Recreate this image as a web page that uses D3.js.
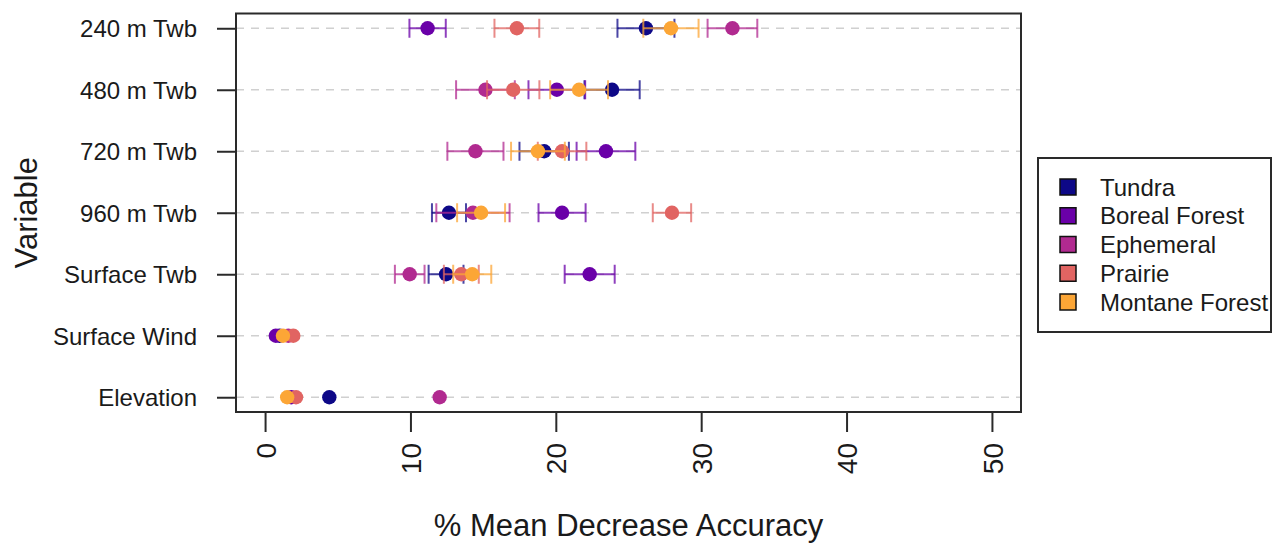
<!DOCTYPE html>
<html>
<head>
<meta charset="utf-8">
<script src="https://cdn.jsdelivr.net/npm/d3@7"></script>
<style>
  html, body { margin: 0; padding: 0; background: #fff; }
  svg { display: block; font-family: "Liberation Sans", Arial, sans-serif; }
</style>
</head>
<body>
<svg id="chart" width="1274" height="544"></svg>
<script>
// Predictor variables, top row first
const variables = ["240 m Twb", "480 m Twb", "720 m Twb", "960 m Twb", "Surface Twb", "Surface Wind", "Elevation"];
const regions = ["Tundra", "Boreal Forest", "Ephemeral", "Prairie", "Montane Forest"];
const regionColors = ["#0d0887", "#6a00a8", "#b12a90", "#e16462", "#fca636"];
const xTicks = [0, 10, 20, 30, 40, 50];

// Mean % decrease in accuracy per region (same order as variables)
const tundraMean    = [26.2, 23.87, 19.2, 12.65, 12.45, 1.0, 4.42];
const borealMean    = [11.18, 20.07, 23.45, 20.43, 22.33, 0.74, 1.8];
const ephemeralMean = [32.15, 15.16, 14.47, 14.3, 9.95, 1.6, 12.01];
const prairieMean   = [17.32, 17.07, 20.43, 27.99, 13.5, 1.94, 2.13];
const montaneMean   = [27.92, 21.6, 18.77, 14.86, 14.25, 1.23, 1.52];

// Error bar half-widths (0 = too small to draw)
const tundraErr    = [1.96, 1.9, 1.7, 1.17, 1.2, 0, 0];
const borealErr    = [1.25, 1.95, 2.02, 1.62, 1.72, 0, 0];
const ephemeralErr = [1.71, 2.02, 1.93, 2.52, 1.02, 0, 0];
const prairieErr   = [1.54, 1.8, 1.67, 1.32, 1.2, 0, 0];
const montaneErr   = [1.9, 1.99, 1.85, 1.65, 1.31, 0, 0];

const means = [tundraMean, borealMean, ephemeralMean, prairieMean, montaneMean];
const errs = [tundraErr, borealErr, ephemeralErr, prairieErr, montaneErr];

const svg = d3.select("#chart");
const plot = { left: 236, right: 1021, top: 13.5, bottom: 412 };

// Data range 0..50 with 4% padding on each side
const x = d3.scaleLinear().domain([-2, 52]).range([plot.left, plot.right]);
// Rows 1..7, bottom to top, with 4% padding
const y = d3.scaleLinear().domain([1 - 0.24, 7 + 0.24]).range([plot.bottom, plot.top]);
const rowY = i => y(variables.length - i);

// Dashed horizontal guides
svg.append("g")
  .selectAll("line")
  .data(variables)
  .join("line")
  .attr("x1", plot.left).attr("x2", plot.right)
  .attr("y1", (d, i) => rowY(i)).attr("y2", (d, i) => rowY(i))
  .attr("stroke", "#d0d0d0").attr("stroke-width", 1.5)
  .attr("stroke-dasharray", "8,7");

// Error bars and points, one region at a time
const capHalf = 9.5;
regions.forEach((name, s) => {
  const rows = variables.map((v, i) => ({ i, m: means[s][i], e: errs[s][i] }));
  const g = svg.append("g").attr("class", "region");
  const bars = g.selectAll("g.bar").data(rows.filter(r => r.e > 0)).join("g")
    .attr("class", "bar")
    .attr("stroke", regionColors[s]).attr("stroke-opacity", 0.75).attr("stroke-width", 2);
  bars.append("line")
    .attr("x1", r => x(r.m - r.e)).attr("x2", r => x(r.m + r.e))
    .attr("y1", r => rowY(r.i)).attr("y2", r => rowY(r.i));
  bars.append("line")
    .attr("x1", r => x(r.m - r.e)).attr("x2", r => x(r.m - r.e))
    .attr("y1", r => rowY(r.i) - capHalf).attr("y2", r => rowY(r.i) + capHalf);
  bars.append("line")
    .attr("x1", r => x(r.m + r.e)).attr("x2", r => x(r.m + r.e))
    .attr("y1", r => rowY(r.i) - capHalf).attr("y2", r => rowY(r.i) + capHalf);
  g.selectAll("circle").data(rows).join("circle")
    .attr("cx", r => x(r.m)).attr("cy", r => rowY(r.i))
    .attr("r", 7.2).attr("fill", regionColors[s]);
});

// Plot frame
svg.append("rect")
  .attr("x", plot.left).attr("y", plot.top)
  .attr("width", plot.right - plot.left).attr("height", plot.bottom - plot.top)
  .attr("fill", "none").attr("stroke", "#2a2a2a").attr("stroke-width", 2);

// Bottom axis with rotated labels
const xAxis = svg.append("g")
  .attr("transform", `translate(0,${plot.bottom})`)
  .call(d3.axisBottom(x).tickValues(xTicks).tickSize(20).tickFormat(d3.format("d")));
xAxis.select(".domain").attr("d", `M${x(0)},0H${x(50)}`).attr("stroke", "#2a2a2a").attr("stroke-width", 2);
xAxis.selectAll(".tick line").attr("stroke", "#2a2a2a").attr("stroke-width", 2);
xAxis.selectAll(".tick text")
  .attr("font-size", 28).attr("fill", "#1a1a1a")
  .attr("text-anchor", "end")
  .attr("transform", "translate(0,31) rotate(-90)")
  .attr("x", 0).attr("y", 0).attr("dy", "0.36em");

// Left axis with variable names
const yAxis = svg.append("g")
  .attr("transform", `translate(${plot.left},0)`)
  .call(d3.axisLeft(y).tickValues(d3.range(1, 8)).tickSize(19)
    .tickFormat(d => variables[variables.length - d]));
yAxis.select(".domain").attr("d", `M0,${rowY(6)}V${rowY(0)}`).attr("stroke", "#2a2a2a").attr("stroke-width", 2);
yAxis.selectAll(".tick line").attr("stroke", "#2a2a2a").attr("stroke-width", 2);
yAxis.selectAll(".tick text")
  .attr("font-size", 24).attr("fill", "#1a1a1a")
  .attr("x", -39).attr("dy", "0.36em");

// Axis titles
svg.append("text")
  .attr("x", (plot.left + plot.right) / 2).attr("y", 536)
  .attr("text-anchor", "middle").attr("font-size", 31).attr("fill", "#1a1a1a")
  .text("% Mean Decrease Accuracy");
svg.append("text")
  .attr("transform", `translate(37,${(plot.top + plot.bottom) / 2}) rotate(-90)`)
  .attr("text-anchor", "middle").attr("font-size", 31).attr("fill", "#1a1a1a")
  .text("Variable");

// Legend
const legend = svg.append("g");
legend.append("rect")
  .attr("x", 1038).attr("y", 158).attr("width", 233).attr("height", 174)
  .attr("fill", "#fff").attr("stroke", "#2a2a2a").attr("stroke-width", 2);
const ly = d3.scalePoint().domain(regions).range([187, 302]);
const items = legend.selectAll("g.item").data(regions).join("g").attr("class", "item")
  .attr("transform", d => `translate(0,${ly(d)})`);
items.append("rect")
  .attr("x", 1060).attr("y", -8).attr("width", 16).attr("height", 16)
  .attr("fill", (d, i) => regionColors[i]).attr("stroke", "#111").attr("stroke-width", 1.5);
items.append("text")
  .attr("x", 1100).attr("y", 0).attr("dy", "0.36em")
  .attr("font-size", 24).attr("fill", "#1a1a1a")
  .text(d => d);
</script>
</body>
</html>
